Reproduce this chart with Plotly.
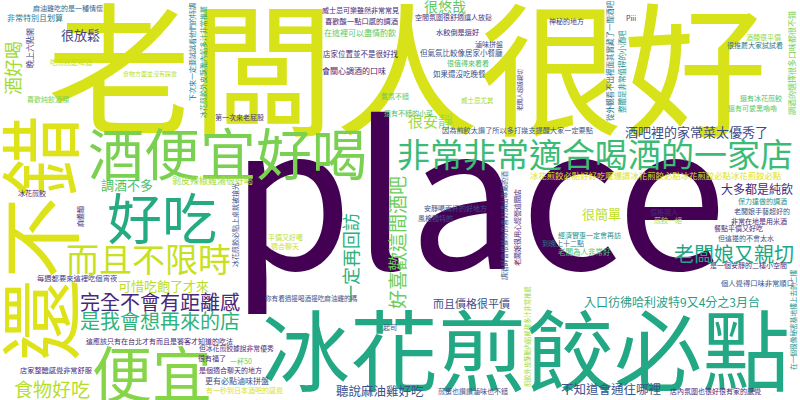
import plotly.graph_objects as go

# words of the cloud (Chinese review phrases)
words = [
    "老闆人很好", "place", "冰花煎餃必點", "酒便宜好喝", "非常非常適合喝酒的一家店",
    "還不錯", "好吃", "而且不限時", "便宜", "完全不會有距離感",
    "是我會想再來的店", "老闆娘又親切", "大多都是純飲", "酒吧裡的家常菜太優秀了", "入口彷彿哈利波特9又4分之3月台",
    "不知道會通往哪裡", "聽說麻油雞好吃", "而且價格很平價", "很放鬆", "調酒不多",
    "食物好吃", "可惜吃飽了才來", "很安靜", "很悠哉", "很簡單",
    "好喜歡這間酒吧", "一定再回訪", "酒好喝", "麻油雞吃的是一種情懷", "非常特別且划算",
    "晚上六點開", "吃煎餃配啤酒", "食物方面並沒有踩雷", "喜歡純飲酒類", "下次來一定要試試看他們的特調",
    "冰花煎餃外皮酥脆內餡多汁非常推薦", "威士忌可樂雖然非常常見", "喜歡酸一點口感的調酒", "在這裡可以盡情酌飲", "店家位置並不是很好找",
    "會關心調酒的口味", "第一次來老屁股", "氣氛不錯", "還有不錯的小菜", "空間氛圍很舒適讓人放鬆",
    "水餃倒是還好", "神秘的地方", "滷味拼盤", "但氣氛比較像居家小餐廳", "很值得來看看",
    "如果還沒吃晚餐", "老闆人超級親切", "威士忌尤其", "因為煎餃太讚了所以多打幾支提醒大家一定要點", "從外觀看不出裡面其實藏了一間酒吧",
    "整體是非常值得的小酒吧", "Piii", "調酒的選擇很多口味都很不錯", "酒類很平價", "很推薦大家試試看",
    "還有冰花煎餃", "還有可愛黑嚕嚕", "剝皮辣椒雞湯很好喝", "冰花煎餃", "麻醬麵",
    "每週都要來這裡吃個宵夜", "這應該只有在台北才有而且是饕客才知道的吃法", "店家整體感覺非常舒服", "你有看過邊喝酒邊吃麻油雞的嗎", "但冰花煎餃據說非常優秀",
    "很有福了", "一杯50", "是個適合聊天的地方", "更有必點滷味拼盤", "有一秒到日本酒吧的感覺",
    "起司", "調酒師會根據你的喜好調出專屬的酒", "老闆娘很用心經營這間店", "煎餃外皮酥脆內餡鮮甜多汁非常推薦", "冰花煎餃必點好好吃喔爆讚冰花煎餃必點冰花煎餃必點冰花煎餃必點",
    "保力達做的調酒", "老闆娘手藝超好的", "非常在地是用米酒", "價格親人", "煎餃一絕",
    "餐點平價又好吃", "但這邊的不會太水", "是一個安靜的二樓小空間", "經濟實惠一定會再訪", "到晚上十二點",
    "老闆為人非常好", "安靜喝兩杯的好地方", "風格獨特的", "平價又好喝", "適合聊天",
    "個人覺得口味非常順口", "在一個很像秘密基地樓上去的二樓", "店內氛圍也很好很有家的感覺", "煎蛋也讚讚滷味也不錯", "冰花煎餃必點上桌就被搶光",
]

# layout of the cloud: centre x, centre y (px, top-left origin), font size, colour, rotation
x_pos = [
    407, 478, 526, 228, 595,
    36, 162, 148, 152, 160,
    160, 734, 757, 696, 672,
    611, 380, 471, 80, 127,
    52, 163, 430, 445, 601,
    396, 350, 12, 68, 35,
    29, 71, 150, 48, 192,
    203, 360, 361, 360, 360,
    354, 239, 395, 408, 453,
    457, 566, 489, 461, 468,
    459, 519, 477, 517, 609,
    621, 631, 791, 763, 755,
    761, 752, 212, 32, 80,
    77, 159, 56, 311, 236,
    212, 241, 230, 237, 244,
    390, 504, 517, 527, 656,
    762, 762, 759, 664, 668,
    738, 746, 748, 589, 563,
    584, 455, 435, 285, 285,
    757, 793, 715, 473, 235,
]
y_pos = [
    62, 182, 345, 150, 153,
    238, 215, 258, 370, 301,
    320, 253, 188, 131, 301,
    388, 390, 303, 34, 184,
    388, 285, 120, 6, 213,
    243, 258, 68, 8, 17,
    48, 62, 73, 99, 52,
    62, 10, 21, 32, 53,
    70, 117, 96, 113, 17,
    32, 21, 44, 52, 63,
    73, 90, 100, 130, 61,
    72, 18, 63, 37, 45,
    98, 108, 180, 193, 217,
    278, 341, 370, 298, 348,
    358, 361, 370, 380, 390,
    327, 226, 228, 337, 175,
    201, 211, 221, 212, 220,
    228, 238, 265, 235, 243,
    251, 208, 218, 237, 246,
    283, 320, 391, 391, 225,
]
sizes = [
    144, 198, 88, 56, 33,
    82, 55, 33, 60, 20,
    20, 20, 12, 13, 12,
    12.5, 12.5, 11, 13, 13,
    19, 13, 15, 14, 13,
    19, 18, 18, 7, 8,
    8, 7, 6, 7, 7,
    7, 7, 7.3, 8, 7.5,
    8, 7, 7, 7, 7,
    7.2, 7, 7, 7.5, 7,
    7.5, 6, 6.5, 7.2, 7.5,
    7.5, 7, 8, 7, 7,
    7, 7, 9, 7, 7,
    7.3, 7, 7.2, 6.6, 6.8,
    7, 7, 7, 8, 7,
    7, 6.8, 7, 6.3, 8.4,
    7, 7, 7, 7, 7,
    7, 7, 7, 7, 7,
    7.5, 7, 7, 7, 7,
    7.3, 6.7, 7, 7, 7,
]
colors = [
    "#d8e219", "#440154", "#22a884", "#7ad151", "#3bbb75",
    "#dde318", "#25ab82", "#c8e020", "#86d549", "#482878",
    "#2eb37c", "#21a585", "#472c7a", "#3e4a89", "#1fa088",
    "#3b528b", "#3b528b", "#3e4c8a", "#414487", "#4ac16d",
    "#b5de2b", "#bade28", "#9fda3a", "#5ec962", "#bddf26",
    "#6ccd5a", "#2db27d", "#a2da37", "#31688e", "#2a788e",
    "#414487", "#c2df23", "#bddf26", "#7ad151", "#2a788e",
    "#1f9e89", "#482878", "#482878", "#5ec962", "#482878",
    "#482878", "#443983", "#5ec962", "#4ac16d", "#46337e",
    "#482878", "#443983", "#3b528b", "#3b528b", "#4ac16d",
    "#3b528b", "#443983", "#a8db34", "#38598c", "#2c728e",
    "#21918c", "#443983", "#7ad151", "#8fd744", "#2a788e",
    "#4ac16d", "#5ec962", "#a5db36", "#482878", "#482878",
    "#443983", "#482878", "#482878", "#3b528b", "#482878",
    "#482878", "#5ec962", "#482878", "#3b528b", "#d8e219",
    "#3b528b", "#3b528b", "#482878", "#9fda3a", "#dde318",
    "#21918c", "#3b528b", "#482878", "#482878", "#a8db34",
    "#482878", "#3b528b", "#46337e", "#21918c", "#2a788e",
    "#4ac16d", "#3b528b", "#3b528b", "#bddf26", "#d0e11c",
    "#3b528b", "#21918c", "#482878", "#3b528b", "#3b528b",
]
vertical = {
    "還不錯", "好喜歡這間酒吧", "一定再回訪", "酒好喝", "晚上六點開",
    "下次來一定要試試看他們的特調", "冰花煎餃外皮酥脆內餡多汁非常推薦", "老闆人超級親切",
    "從外觀看不出裡面其實藏了一間酒吧", "整體是非常值得的小酒吧", "調酒的選擇很多口味都很不錯",
    "麻醬麵", "調酒師會根據你的喜好調出專屬的酒", "老闆娘很用心經營這間店",
    "煎餃外皮酥脆內餡鮮甜多汁非常推薦", "在一個很像秘密基地樓上去的二樓", "冰花煎餃必點上桌就被搶光",
}

fig = go.Figure()
# invisible trace so the axes exist
fig.add_trace(go.Scatter(x=[0, 800], y=[0, 400], mode="markers",
                         marker=dict(opacity=0), hoverinfo="skip", showlegend=False))

for w, x, y, s, c in zip(words, x_pos, y_pos, sizes, colors):
    fig.add_annotation(
        x=x, y=y, text=w, showarrow=False,
        xanchor="center", yanchor="middle",
        textangle=-90 if w in vertical else 0,
        font=dict(family="Noto Sans CJK TC", size=s, color=c),
        borderpad=0,
    )

fig.update_layout(
    width=800, height=400,
    margin=dict(l=0, r=0, t=0, b=0),
    paper_bgcolor="white", plot_bgcolor="white",
    xaxis=dict(range=[0, 800], visible=False, fixedrange=True),
    yaxis=dict(range=[400, 0], visible=False, fixedrange=True),
    showlegend=False,
)

# drop the default page margin so the 800x400 figure fills the window
fig.write_html("out.html", config={"displayModeBar": False},
               post_script="document.body.style.margin='0';")
